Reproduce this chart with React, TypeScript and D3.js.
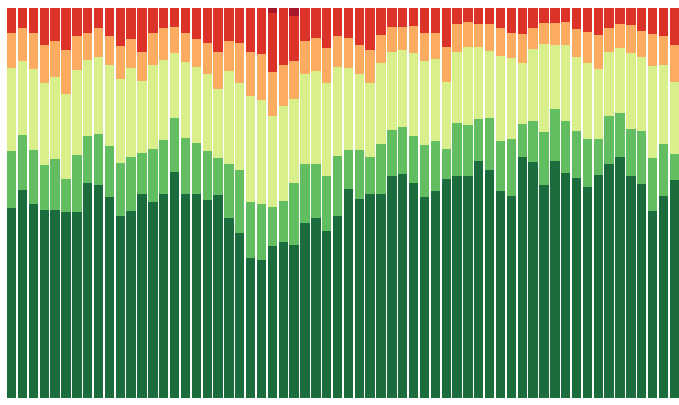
import React from "react";
import * as d3 from "d3";

// 62 periods, values in percent (normalised per bar)
const categories: string[] = Array.from({ length: 62 }, (_, i) => `P${i + 1}`);

const darkGreen = [48.7, 53.4, 49.8, 48.1, 48.1, 47.8, 47.6, 55.1, 54.6, 51.7, 46.5, 47.8, 52.3, 50.2, 52.3, 58.1, 52.3, 52.3, 50.8, 52.1, 46.1, 42.3, 35.9, 35.4, 39.0, 39.9, 39.3, 44.8, 46.1, 42.7, 46.5, 53.5, 51.0, 52.3, 52.3, 56.8, 57.5, 55.1, 51.5, 53.2, 56.1, 57.0, 57.0, 60.6, 58.3, 53.2, 51.8, 61.9, 60.6, 54.7, 60.9, 57.8, 56.4, 54.2, 57.2, 60.0, 61.7, 57.0, 54.9, 48.1, 51.8, 55.9];
const midGreen = [14.5, 14.1, 13.8, 11.7, 13.2, 8.3, 14.6, 12.1, 13.2, 13.0, 13.8, 13.9, 10.6, 13.6, 13.8, 13.7, 14.3, 13.2, 12.6, 9.4, 13.9, 16.2, 14.3, 14.3, 10.1, 10.5, 15.8, 15.2, 13.9, 14.3, 15.5, 10.1, 12.6, 9.6, 12.8, 11.8, 12.1, 12.1, 13.4, 12.6, 7.7, 13.7, 13.1, 10.8, 13.4, 12.8, 14.5, 8.4, 10.5, 13.7, 13.2, 13.3, 12.2, 12.1, 9.1, 12.3, 11.4, 12.0, 13.4, 13.4, 13.3, 6.7];
const lightGreen = [21.3, 18.8, 20.7, 20.9, 21.1, 21.9, 21.9, 19.5, 19.6, 20.8, 21.4, 22.8, 18.4, 21.6, 20.5, 16.7, 19.6, 19.5, 19.8, 17.7, 23.9, 22.2, 27.2, 26.6, 23.1, 24.5, 21.5, 23.1, 23.9, 23.7, 22.7, 20.9, 19.5, 18.8, 20.8, 20.2, 19.6, 21.2, 21.3, 21.1, 17.1, 18.2, 19.9, 18.6, 17.3, 21.7, 20.8, 15.7, 18.5, 22.5, 16.5, 19.4, 18.8, 19.5, 17.9, 16.5, 16.5, 19.6, 19.0, 23.7, 20.2, 18.3];
const orange = [9.1, 8.5, 9.2, 9.8, 9.2, 11.3, 8.7, 6.8, 7.4, 7.4, 8.5, 7.4, 7.5, 8.3, 8.1, 6.8, 7.3, 7.0, 7.9, 9.6, 7.7, 10.4, 11.3, 11.8, 11.5, 10.5, 9.8, 8.5, 8.3, 9.0, 7.9, 7.7, 7.4, 8.5, 7.1, 6.4, 6.0, 7.0, 7.4, 6.8, 9.2, 7.1, 6.6, 5.8, 6.8, 7.1, 6.6, 7.3, 5.4, 5.5, 5.7, 6.0, 7.2, 8.1, 8.8, 6.0, 6.2, 7.1, 6.8, 8.2, 7.4, 9.6];
const red = [6.3, 5.2, 6.5, 9.5, 8.4, 10.8, 7.2, 6.5, 5.2, 7.2, 9.7, 8.0, 11.2, 6.3, 5.2, 4.8, 6.5, 8.0, 8.9, 11.2, 8.4, 8.9, 11.4, 11.8, 15.1, 14.6, 11.5, 8.4, 7.8, 10.3, 7.3, 7.8, 9.5, 10.8, 6.9, 4.8, 4.8, 4.6, 6.3, 6.3, 9.9, 4.1, 3.5, 4.1, 4.1, 5.2, 6.3, 6.7, 5.0, 3.8, 3.8, 3.5, 5.5, 6.1, 6.9, 5.2, 4.1, 4.4, 5.8, 6.7, 7.2, 9.5];
const darkRed = [0, 0, 0, 0, 0, 0, 0, 0, 0, 0, 0, 0, 0, 0, 0, 0, 0, 0, 0, 0, 0, 0, 0, 0, 1.2, 0, 2.0, 0, 0, 0, 0, 0, 0, 0, 0, 0, 0, 0, 0, 0, 0, 0, 0, 0, 0, 0, 0, 0, 0, 0, 0, 0, 0, 0, 0, 0, 0, 0, 0, 0, 0, 0];

const seriesKeys = ["darkGreen", "midGreen", "lightGreen", "orange", "red", "darkRed"];
const seriesColors = ["#1b6d3d", "#63bd61", "#d9ef8b", "#fbac60", "#db3329", "#a8162a"];

const W = 679;
const H = 405;
const margin = { left: 7, right: 0, top: 8, bottom: 7 };

export default function App() {
  const rows = categories.map((c, i) => ({
    cat: c,
    darkGreen: darkGreen[i],
    midGreen: midGreen[i],
    lightGreen: lightGreen[i],
    orange: orange[i],
    red: red[i],
    darkRed: darkRed[i],
  }));

  const stacked = d3
    .stack<any>()
    .keys(seriesKeys)
    .offset(d3.stackOffsetExpand)(rows);

  const x = d3
    .scaleBand<string>()
    .domain(categories)
    .range([margin.left, W - margin.right])
    .paddingInner(0.14)
    .paddingOuter(0);

  const y = d3.scaleLinear().domain([0, 1]).range([H - margin.bottom, margin.top]);

  return (
    <svg
      width={W}
      height={H}
      style={{ position: "absolute", left: 0, top: 0, background: "#fff", display: "block" }}
    >
      {stacked.map((layer, li) => (
        <g key={seriesKeys[li]} fill={seriesColors[li]}>
          {layer.map((d, i) => {
            const h = y(d[0]) - y(d[1]);
            if (h <= 0) return null;
            return (
              <rect
                key={i}
                x={x(categories[i])}
                y={y(d[1])}
                width={x.bandwidth()}
                height={h}
                shapeRendering="crispEdges"
              />
            );
          })}
        </g>
      ))}
    </svg>
  );
}
